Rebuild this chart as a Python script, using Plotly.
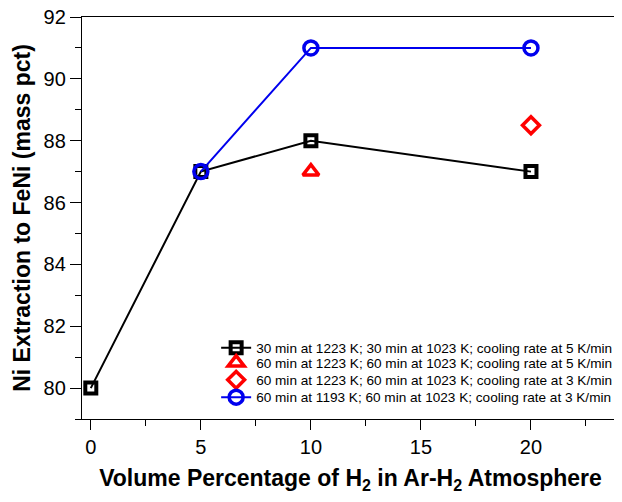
import plotly.graph_objects as go

# Data
x_s1 = [0, 5, 10, 20]
y_s1 = [80, 87, 88, 87]
x_s2 = [10]
y_s2 = [87]
x_s3 = [20]
y_s3 = [88.5]
x_s4 = [5, 10, 20]
y_s4 = [87, 91, 91]

names = [
    "30 min at 1223 K; 30 min at 1023 K; cooling rate at 5 K/min",
    "60 min at 1223 K; 60 min at 1023 K; cooling rate at 5 K/min",
    "60 min at 1223 K; 60 min at 1023 K; cooling rate at 3 K/min",
    "60 min at 1193 K; 60 min at 1023 K; cooling rate at 3 K/min",
]

x_ticks = [0, 5, 10, 15, 20]
y_ticks = [80, 82, 84, 86, 88, 90, 92]

fig = go.Figure()
fig.add_trace(go.Scatter(
    x=x_s1, y=y_s1, mode="lines+markers", name=names[0], legend="legend",
    line=dict(color="black", width=2),
    marker=dict(symbol="square-open", size=11, color="black", line=dict(width=4, color="black")),
))
fig.add_trace(go.Scatter(
    x=x_s2, y=y_s2, mode="markers", name=names[1], legend="legend2",
    marker=dict(symbol="triangle-up-open", size=14, color="red", line=dict(width=3.5, color="red")),
))
fig.add_trace(go.Scatter(
    x=x_s3, y=y_s3, mode="markers", name=names[2], legend="legend3",
    marker=dict(symbol="diamond-open", size=13, color="red", line=dict(width=3.5, color="red")),
))
fig.add_trace(go.Scatter(
    x=x_s4, y=y_s4, mode="lines+markers", name=names[3], legend="legend4",
    line=dict(color="#0000ee", width=2),
    marker=dict(symbol="circle-open", size=14, color="#0000ee", line=dict(width=3.5, color="#0000ee")),
))

legend_font = dict(size=13.6, family="Arial, Liberation Sans, sans-serif", color="black")
leg_x = 0.2498
leg_rows = [0.177, 0.140, 0.097, 0.054]


def leg(yv):
    return dict(x=leg_x, xanchor="left", y=yv, yanchor="middle",
                bgcolor="rgba(0,0,0,0)", borderwidth=0, font=legend_font,
                itemsizing="trace")


# page body adds an 8px offset in the browser, so figure is 8px smaller
fig.update_layout(
    width=614, height=494,
    margin=dict(l=74, r=3, t=9, b=83, autoexpand=False),
    plot_bgcolor="white", paper_bgcolor="white",
    font=dict(family="Arial, Liberation Sans, sans-serif", color="black"),
    showlegend=True,
    legend=leg(leg_rows[0]),
    legend2=leg(leg_rows[1]),
    legend3=leg(leg_rows[2]),
    legend4=leg(leg_rows[3]),
    xaxis=dict(
        range=[-0.4, 24], tickvals=x_ticks, ticktext=[str(v) for v in x_ticks],
        ticks="outside", ticklen=10, tickwidth=1.3, tickcolor="black",
        minor=dict(tickvals=[2.5, 7.5, 12.5, 17.5, 22.5], ticks="outside", ticklen=6, tickwidth=1.3, tickcolor="black"),
        showline=True, linecolor="black", linewidth=1.3, mirror=True,
        showgrid=False, zeroline=False, automargin=False,
        ticklabeloverflow="allow",
        tickfont=dict(size=20),
        title=dict(text="<b>Volume Percentage of H<sub>2</sub> in Ar-H<sub>2</sub> Atmosphere</b>",
                   font=dict(size=23), standoff=12),
    ),
    yaxis=dict(
        range=[79, 92], tickvals=y_ticks, ticktext=[str(v) for v in y_ticks],
        ticks="outside", ticklen=11, tickwidth=1.3, tickcolor="black",
        minor=dict(tickvals=[79, 81, 83, 85, 87, 89, 91], ticks="outside", ticklen=6, tickwidth=1.3, tickcolor="black"),
        showline=True, linecolor="black", linewidth=1.3, mirror=True,
        showgrid=False, zeroline=False, automargin=False,
        ticklabeloverflow="allow",
        tickfont=dict(size=20),
        title=dict(text="<b>Ni Extraction to FeNi (mass pct)</b>", font=dict(size=23), standoff=6),
    ),
)

fig.write_html("out.html")
